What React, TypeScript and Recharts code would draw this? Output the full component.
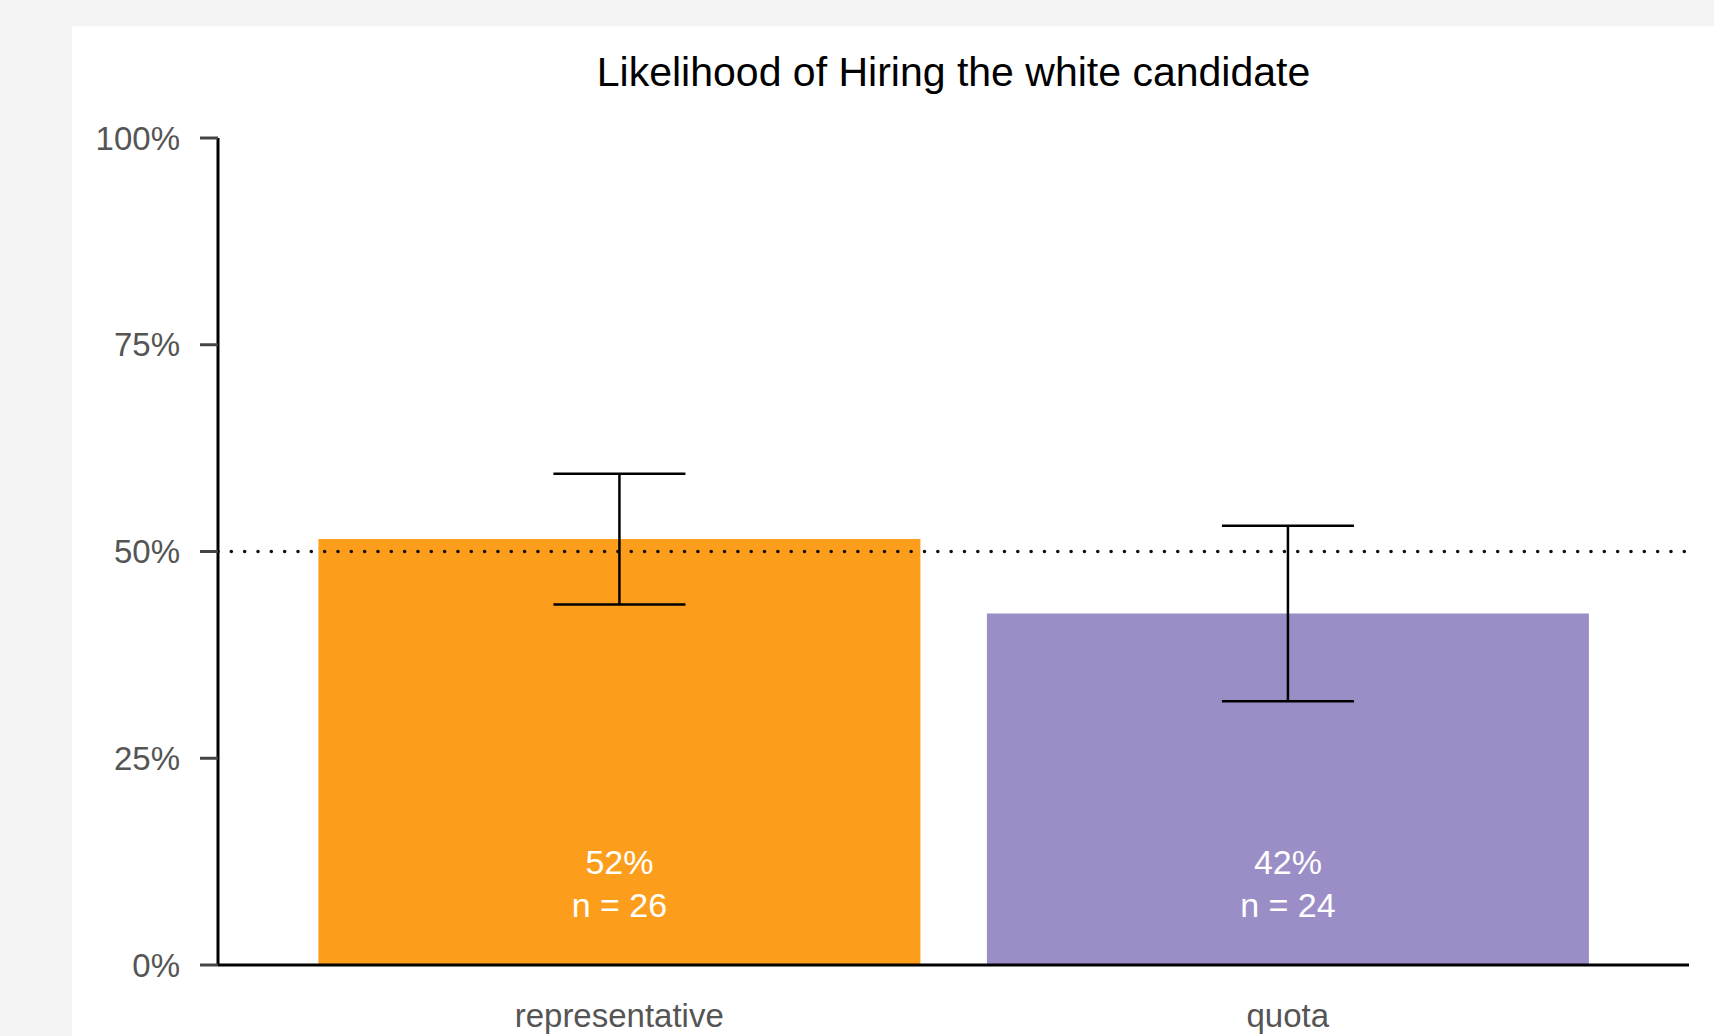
import React from "react";
import { BarChart, Bar, XAxis, YAxis, ErrorBar, ReferenceLine, LabelList, Cell } from "recharts";

const categories = ["representative", "quota"];
const values = [51.5, 42.5];
const errors = [[7.9, 7.9], [10.6, 10.6]];
const pctLabels = ["52%", "42%"];
const nValues = [26, 24];
const colors = ["#FC9E1C", "#9B8EC6"];
const yTicks = [0, 25, 50, 75, 100];
const title = "Likelihood of Hiring the white candidate";

const data = categories.map((name, i) => ({ name, value: values[i], err: errors[i], idx: i }));

const FONT = "'Liberation Sans', Arial, Helvetica, sans-serif";

const BarText = (props: any) => {
  const { x, y, width, height, index } = props;
  const cx = x + width / 2;
  const bottom = y + height;
  return (
    <g>
      <text x={cx} y={bottom - 91} textAnchor="middle" fill="#fff" fontSize={34} fontFamily={FONT}>
        {pctLabels[index]}
      </text>
      <text x={cx} y={bottom - 48} textAnchor="middle" fill="#fff" fontSize={34} fontFamily={FONT}>
        {"n = " + nValues[index]}
      </text>
    </g>
  );
};

export default function App() {
  return (
    <div style={{ position: "absolute", left: 0, top: 0, width: 1714, height: 1036, background: "#f4f4f4", overflow: "hidden" }}>
      <div style={{ position: "absolute", left: 72, top: 26, width: 1642, height: 1010, background: "#fff" }}>
        <div
          style={{
            position: "absolute",
            left: 146,
            top: 26,
            width: 1471,
            textAlign: "center",
            fontFamily: FONT,
            fontSize: 41,
            lineHeight: "40px",
            color: "#000",
          }}
        >
          {title}
        </div>
        <BarChart
          width={1642}
          height={1010}
          data={data}
          margin={{ top: 112, right: 25, bottom: 0, left: 0 }}
          barCategoryGap="5%"
        >
          <XAxis
            dataKey="name"
            padding={{ left: 67, right: 67 }}
            axisLine={{ stroke: "#000", strokeWidth: 3 }}
            tickLine={false}
            tickSize={0}
            tickMargin={39}
            height={71}
            tick={{ fill: "#555", fontSize: 33, fontFamily: FONT }}
            interval={0}
          />
          <XAxis xAxisId="full" dataKey="name" hide />
          <YAxis
            domain={[0, 100]}
            ticks={yTicks}
            tickFormatter={(v: number) => v + "%"}
            width={146}
            axisLine={{ stroke: "#000", strokeWidth: 3 }}
            tickLine={{ stroke: "#444", strokeWidth: 3 }}
            tickSize={18}
            tickMargin={20}
            tick={{ fill: "#555", fontSize: 33, fontFamily: FONT }}
            interval={0}
          />
          <Bar dataKey="value" isAnimationActive={false}>
            {data.map((d, i) => (
              <Cell key={d.name} fill={colors[i]} />
            ))}
            <LabelList dataKey="value" content={<BarText />} />
            <ErrorBar dataKey="err" width={66} stroke="#000" strokeWidth={2.5} direction="y" />
          </Bar>
          <ReferenceLine
            y={50}
            xAxisId="full"
            stroke="#111"
            strokeWidth={3.6}
            strokeDasharray="0 13.33"
            strokeLinecap="round"
          />
        </BarChart>
      </div>
    </div>
  );
}
